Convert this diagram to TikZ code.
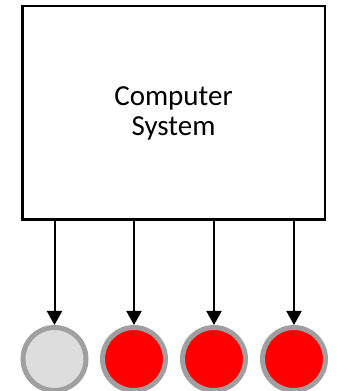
\documentclass[tikz,border=0pt]{standalone}
\usepackage{fontspec}
\setmainfont{Carlito}
\usetikzlibrary{arrows.meta}
\definecolor{ringgray}{HTML}{A0A0A0}
\definecolor{idlegray}{HTML}{DDDDDD}
\definecolor{busyred}{HTML}{FF0000}

\begin{document}
\begin{tikzpicture}[x=1pt, y=1pt, font=\fontsize{29}{30}\selectfont,
  dot/.style={circle, draw=ringgray, line width=5pt, minimum size=63pt, inner sep=0pt},
  link/.style={line width=2pt, -{Triangle[width=15pt,length=14pt]}}]
\useasboundingbox (0,0) rectangle (347,391);

% System box
\node[draw, line width=2.5pt, minimum width=302.5pt, minimum height=213.5pt, align=center] (sys) at (173.5,278) {Computer\\System};

% Processors
\foreach \x/\c [count=\i] in {54.5/idlegray, 134/busyred, 214/busyred, 294/busyred}
	\node[dot, fill=\c] (c\i) at (\x,32) {};

% Connections from box to processors
\foreach \i in {1,...,4}
	\draw[link] (sys.south -| c\i) -- (c\i.north);
\end{tikzpicture}
\end{document}
